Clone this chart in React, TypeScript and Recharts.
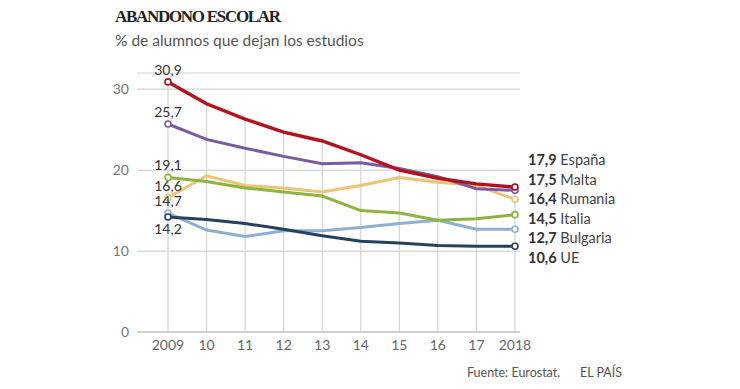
import { ComposedChart, Line, XAxis, YAxis, CartesianGrid, ReferenceLine, LabelList } from "recharts";

const years = ["2009", "2010", "2011", "2012", "2013", "2014", "2015", "2016", "2017", "2018"];
const yearLabels = ["2009", "10", "11", "12", "13", "14", "15", "16", "17", "2018"];
const yTicks = [0, 10, 20, 30];

const espana = [30.9, 28.2, 26.3, 24.7, 23.6, 21.9, 20.0, 19.0, 18.3, 17.9];
const malta = [25.7, 23.8, 22.7, 21.7, 20.8, 20.9, 20.2, 19.2, 17.7, 17.5];
const rumania = [16.6, 19.3, 18.1, 17.8, 17.3, 18.1, 19.1, 18.5, 18.1, 16.4];
const italia = [19.1, 18.6, 17.8, 17.3, 16.8, 15.0, 14.7, 13.8, 14.0, 14.5];
const bulgaria = [14.7, 12.6, 11.8, 12.5, 12.5, 12.9, 13.4, 13.8, 12.7, 12.7];
const ue = [14.2, 13.9, 13.4, 12.7, 11.9, 11.2, 11.0, 10.7, 10.6, 10.6];

const series = [
  { key: "bulgaria", name: "Bulgaria", values: bulgaria, color: "#8eafd3", below: false },
  { key: "ue", name: "UE", values: ue, color: "#26405f", below: true },
  { key: "rumania", name: "Rumania", values: rumania, color: "#ebc574", below: false },
  { key: "italia", name: "Italia", values: italia, color: "#8db43e", below: false },
  { key: "malta", name: "Malta", values: malta, color: "#7a5ba3", below: false },
  { key: "espana", name: "España", values: espana, color: "#b3121d", below: false },
];

// order of the labels on the right
const rightOrder = ["espana", "malta", "rumania", "italia", "bulgaria", "ue"];

const data = years.map((y, i) => {
  const row: any = { year: y };
  series.forEach((s) => (row[s.key] = s.values[i]));
  return row;
});

const fmt = (v: number) => v.toFixed(1).replace(".", ",");
const FONT = "Lato, 'Open Sans', sans-serif";

const makeDot = (color: string) => (props: any) => {
  const { cx, cy, index } = props;
  if (index !== 0 && index !== years.length - 1) return <g key={index} />;
  return <circle key={index} cx={cx} cy={cy} r={3} fill="#fff" stroke={color} strokeWidth={1.6} />;
};

const makeFirstLabel = (below: boolean) => (props: any) => {
  const { x, y, value, index } = props;
  if (index !== 0) return null;
  return (
    <text x={x} y={below ? y + 17 : y - 7} textAnchor="middle" fontFamily={FONT} fontSize={14} fill="#333">
      {fmt(value)}
    </text>
  );
};

export default function App() {
  return (
    <div style={{ position: "absolute", left: 0, top: 0, width: 740, height: 389, background: "#fff", fontFamily: FONT }}>
      <div style={{ position: "absolute", left: 115, top: 7, fontFamily: "'Liberation Serif', serif", fontWeight: 700, fontSize: 17, letterSpacing: -1.3, color: "#222" }}>
        ABANDONO ESCOLAR
      </div>
      <div style={{ position: "absolute", left: 115, top: 31, fontSize: 15.5, color: "#555" }}>
        % de alumnos que dejan los estudios
      </div>

      <ComposedChart width={740} height={389} data={data} margin={{ top: 73, right: 220, bottom: 32, left: 107 }}>
        <CartesianGrid vertical={false} stroke="#d4d4d4" strokeWidth={1.2} />
        <XAxis
          dataKey="year"
          padding={{ left: 31, right: 5 }}
          tickFormatter={(v, i) => yearLabels[i]}
          tickLine={false}
          axisLine={{ stroke: "#cfcfcf", strokeWidth: 2 }}
          tick={{ fill: "#666", fontSize: 14, fontFamily: FONT }}
          height={25}
          interval={0}
        />
        <YAxis
          domain={[0, 32]}
          ticks={yTicks}
          width={30}
          tickLine={false}
          axisLine={false}
          tick={{ fill: "#777", fontSize: 14, fontFamily: FONT }}
        />
        {years.map((y, i) => (
          <ReferenceLine
            key={y}
            segment={[
              { x: y, y: 0 },
              { x: y, y: Math.max(...series.map((s) => s.values[i])) },
            ]}
            stroke="#d4d4d4"
            strokeWidth={1.2}
            ifOverflow="visible"
          />
        ))}
        {series.map((s) => (
          <Line
            key={s.key}
            dataKey={s.key}
            type="linear"
            stroke={s.color}
            strokeWidth={s.key === "espana" ? 3.4 : 3}
            dot={makeDot(s.color)}
            activeDot={false}
            isAnimationActive={false}
          >
            <LabelList dataKey={s.key} content={makeFirstLabel(s.below)} />
          </Line>
        ))}
      </ComposedChart>

      {rightOrder.map((k, i) => {
        const s = series.find((x) => x.key === k)!;
        return (
          <div key={k} style={{ position: "absolute", left: 528, top: 150 + i * 19.5, fontSize: 14.5, color: "#333", whiteSpace: "nowrap", lineHeight: "20px" }}>
            <span style={{ fontWeight: 700 }}>{fmt(s.values[s.values.length - 1])}</span> <span style={{ color: "#444" }}>{s.name}</span>
          </div>
        );
      })}

      <div style={{ position: "absolute", left: 467, top: 365, fontSize: 12.5, color: "#555" }}>Fuente: Eurostat.</div>
      <div style={{ position: "absolute", left: 580, top: 365, fontSize: 12.5, color: "#555" }}>EL PAÍS</div>
    </div>
  );
}
